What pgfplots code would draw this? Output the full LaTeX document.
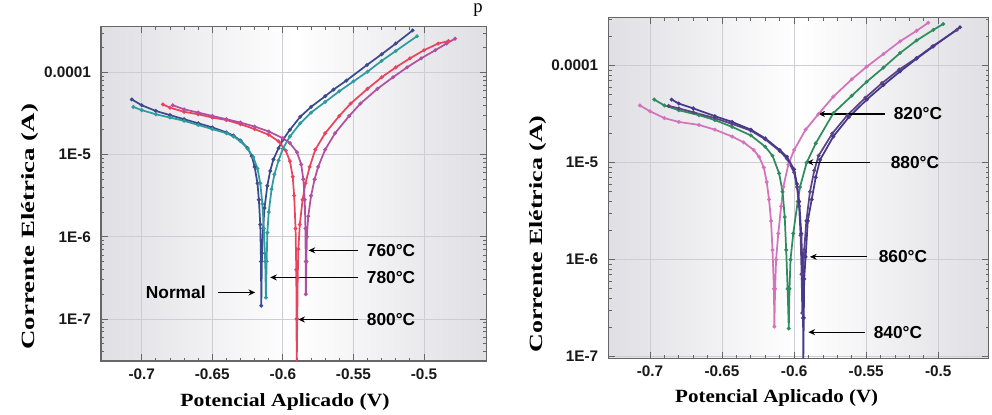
\documentclass[border=0pt]{standalone}
\usepackage{fontspec}
\setmainfont{Liberation Serif}
\setsansfont{Liberation Sans}
\usepackage{pgfplots}
\pgfplotsset{compat=1.18}
\usetikzlibrary{arrows.meta}

\definecolor{cNormal}{HTML}{3B4A8E}
\definecolor{cT780}{HTML}{2E9C9E}
\definecolor{cT800}{HTML}{E8445F}
\definecolor{cT760}{HTML}{B24FA0}
\definecolor{cT820}{HTML}{D472BC}
\definecolor{cT880}{HTML}{2F8C5E}
\definecolor{cT840}{HTML}{46398C}
\definecolor{cT860}{HTML}{5C4484}
\definecolor{gridc}{HTML}{CDCDD3}
\definecolor{bgedge}{HTML}{DFDFE4}

\tikzset{
 lab/.style={font=\sffamily\bfseries\fontsize{13}{14}\selectfont},
 arr/.style={-{Stealth[length=5pt,width=4.5pt]}, line width=0.9pt, black},
}
\pgfplotsset{
 mypanel/.style={
  scale only axis, anchor=south west,
  axis line style={draw=black!60, line width=0.8pt},
  tick style={black!60, line width=0.6pt},
  major tick length=5pt, minor tick length=2.5pt,
  tick align=inside, xtick pos=both, ytick pos=both,
  xtick={-0.7,-0.65,-0.6,-0.55,-0.5},
  xticklabels={-0.7,-0.65,-0.6,-0.55,-0.5},
  minor x tick num=4,
  ytick={1e-7,1e-6,1e-5,1e-4},
  yticklabels={1E-7,1E-6,1E-5,0.0001},
  minor ytick={3e-8,4e-8,5e-8,6e-8,7e-8,8e-8,9e-8,2e-7,3e-7,4e-7,5e-7,6e-7,7e-7,8e-7,9e-7,2e-6,3e-6,4e-6,5e-6,6e-6,7e-6,8e-6,9e-6,2e-5,3e-5,4e-5,5e-5,6e-5,7e-5,8e-5,9e-5,2e-4,3e-4},
  xmajorgrids, ymajorgrids, major grid style={gridc, line width=0.6pt},
  tick label style={font=\sffamily\bfseries\fontsize{11.5}{12}\selectfont, text=black!90},
  yticklabel style={xshift=-4pt},
  xticklabel style={yshift=-2pt},
  axis background/.style={shade, left color=bgedge, right color=bgedge, middle color=white},
  every axis plot/.append style={line width=1.3pt, mark=*, mark size=0.7pt, mark options={solid}},
 },
}

\begin{document}
\begin{tikzpicture}
\useasboundingbox (0,0) rectangle (744pt,310.5pt);

\begin{axis}[mypanel, ymode=log, at={(75.75pt,39.75pt)}, width=289.3pt, height=250.7pt,
  xmin=-0.72887, xmax=-0.45553, ymin=3.08e-8, ymax=3.59e-4]
% Normal
\addplot[cNormal] coordinates {
(-0.707,4.68e-5) (-0.700,3.98e-5) (-0.690,3.39e-5) (-0.680,3.02e-5) (-0.670,2.69e-5)
(-0.660,2.40e-5) (-0.650,2.14e-5) (-0.640,1.86e-5) (-0.635,1.70e-5) (-0.630,1.48e-5)
(-0.625,1.20e-5) (-0.622,9.55e-6) (-0.620,7.08e-6) (-0.618,4.47e-6) (-0.617,2.82e-6)
(-0.616,1.41e-6) (-0.6155,5.01e-7) (-0.6153,1.45e-7) (-0.6148,6.31e-7) (-0.614,1.26e-6)
(-0.613,2.24e-6) (-0.611,4.17e-6) (-0.609,6.31e-6) (-0.6067,8.71e-6) (-0.603,1.20e-5)
(-0.600,1.51e-5) (-0.595,2.00e-5) (-0.5877,2.88e-5) (-0.580,3.80e-5) (-0.570,5.13e-5)
(-0.5641,6.17e-5) (-0.555,7.94e-5) (-0.5404,1.23e-4) (-0.530,1.66e-4) (-0.520,2.24e-4)
(-0.508,3.24e-4)};
% 780
\addplot[cT780] coordinates {
(-0.706,3.80e-5) (-0.700,3.47e-5) (-0.690,3.09e-5) (-0.680,2.82e-5) (-0.670,2.57e-5)
(-0.660,2.29e-5) (-0.650,2.04e-5) (-0.640,1.82e-5) (-0.635,1.66e-5) (-0.630,1.45e-5)
(-0.625,1.18e-5) (-0.621,9.33e-6) (-0.618,6.76e-6) (-0.616,4.47e-6) (-0.6145,2.51e-6)
(-0.6135,1.26e-6) (-0.6125,5.01e-7) (-0.612,1.82e-7) (-0.6115,5.01e-7) (-0.611,1.12e-6)
(-0.610,2.00e-6) (-0.608,3.80e-6) (-0.606,5.75e-6) (-0.603,8.51e-6) (-0.600,1.18e-5)
(-0.595,1.66e-5) (-0.5877,2.40e-5) (-0.580,3.24e-5) (-0.570,4.37e-5) (-0.560,5.89e-5)
(-0.550,7.76e-5) (-0.540,1.02e-4) (-0.530,1.38e-4) (-0.520,1.82e-4) (-0.505,2.75e-4)};
% 800
\addplot[cT800] coordinates {
(-0.685,4.07e-5) (-0.680,3.72e-5) (-0.670,3.31e-5) (-0.660,3.09e-5) (-0.650,2.82e-5)
(-0.640,2.63e-5) (-0.630,2.34e-5) (-0.620,2.04e-5) (-0.610,1.74e-5) (-0.603,1.45e-5)
(-0.598,1.12e-5) (-0.595,8.32e-6) (-0.593,5.37e-6) (-0.592,3.16e-6) (-0.591,1.26e-6)
(-0.5905,3.98e-7) (-0.5903,1.00e-7) (-0.5902,2.51e-8) (-0.5898,1.00e-7) (-0.5895,3.16e-7)
(-0.589,7.08e-7) (-0.588,1.41e-6) (-0.586,2.82e-6) (-0.584,4.47e-6) (-0.581,7.08e-6)
(-0.577,1.15e-5) (-0.570,1.82e-5) (-0.560,2.95e-5) (-0.552,4.17e-5) (-0.540,6.31e-5)
(-0.530,8.71e-5) (-0.520,1.15e-4) (-0.510,1.48e-4) (-0.500,1.86e-4) (-0.490,2.24e-4)
(-0.4826,2.40e-4)};
% 760
\addplot[cT760] coordinates {
(-0.678,3.98e-5) (-0.670,3.55e-5) (-0.660,3.24e-5) (-0.650,2.95e-5) (-0.640,2.69e-5)
(-0.630,2.45e-5) (-0.620,2.19e-5) (-0.610,1.91e-5) (-0.600,1.58e-5) (-0.595,1.38e-5)
(-0.590,1.07e-5) (-0.587,7.59e-6) (-0.5855,5.01e-6) (-0.5845,2.82e-6) (-0.584,1.26e-6)
(-0.5838,5.01e-7) (-0.5837,2.00e-7) (-0.5833,5.01e-7) (-0.583,1.00e-6) (-0.582,1.78e-6)
(-0.580,3.16e-6) (-0.5775,5.01e-6) (-0.575,7.08e-6) (-0.570,1.15e-5) (-0.563,1.82e-5)
(-0.553,2.95e-5) (-0.545,4.17e-5) (-0.533,6.31e-5) (-0.522,8.71e-5) (-0.512,1.15e-4)
(-0.502,1.48e-4) (-0.492,1.86e-4) (-0.484,2.24e-4) (-0.478,2.57e-4)};

\draw[arr] (axis cs:-0.5466,6.84e-7) -- (axis cs:-0.5818,6.84e-7);
\node[lab, anchor=west] at (axis cs:-0.5438,6.84e-7) {760°C};
\draw[arr] (axis cs:-0.5466,3.2e-7) -- (axis cs:-0.609,3.2e-7);
\node[lab, anchor=west] at (axis cs:-0.5438,3.2e-7) {780°C};
\draw[arr] (axis cs:-0.6459,2.1e-7) -- (axis cs:-0.6196,2.1e-7);
\node[lab, anchor=east] at (axis cs:-0.6514,2.1e-7) {Normal};
\draw[arr] (axis cs:-0.5466,9.84e-8) -- (axis cs:-0.5891,9.84e-8);
\node[lab, anchor=west] at (axis cs:-0.5438,9.84e-8) {800°C};
\end{axis}

\begin{axis}[mypanel, ymode=log, at={(456.2pt,41.8pt)}, width=285.5pt, height=255.75pt,
  xmin=-0.72894, xmax=-0.46482, ymin=9.63e-8, ymax=3.155e-4]
% 820
\addplot[cT820] coordinates {
(-0.707,3.89e-5) (-0.700,3.39e-5) (-0.690,2.88e-5) (-0.680,2.63e-5) (-0.666,2.45e-5)
(-0.655,2.19e-5) (-0.643,1.86e-5) (-0.635,1.62e-5) (-0.628,1.35e-5) (-0.6243,1.15e-5)
(-0.621,8.91e-6) (-0.619,6.31e-6) (-0.6174,4.17e-6) (-0.616,2.51e-6) (-0.615,1.26e-6)
(-0.614,5.01e-7) (-0.6137,2.04e-7) (-0.6132,5.01e-7) (-0.6125,1.00e-6) (-0.611,1.86e-6)
(-0.609,3.55e-6) (-0.6075,5.62e-6) (-0.604,9.55e-6) (-0.600,1.35e-5) (-0.592,2.19e-5)
(-0.5832,3.16e-5) (-0.5728,4.79e-5) (-0.560,7.24e-5) (-0.5496,9.77e-5) (-0.538,1.32e-4)
(-0.5265,1.78e-4) (-0.515,2.29e-4) (-0.5069,2.77e-4)};
% 880
\addplot[cT880] coordinates {
(-0.697,4.47e-5) (-0.690,3.89e-5) (-0.680,3.47e-5) (-0.666,3.09e-5) (-0.655,2.75e-5)
(-0.643,2.34e-5) (-0.630,1.91e-5) (-0.620,1.46e-5) (-0.615,1.18e-5) (-0.6104,7.76e-6)
(-0.608,5.01e-6) (-0.6065,2.75e-6) (-0.6055,1.26e-6) (-0.6045,5.01e-7) (-0.6037,1.95e-7)
(-0.6032,5.01e-7) (-0.6025,1.00e-6) (-0.6006,1.86e-6) (-0.5975,3.98e-6) (-0.5959,5.62e-6)
(-0.5913,1.00e-5) (-0.585,1.58e-5) (-0.5728,3.24e-5) (-0.560,4.90e-5) (-0.5496,6.84e-5)
(-0.538,9.55e-5) (-0.5265,1.35e-4) (-0.515,1.82e-4) (-0.5034,2.34e-4) (-0.4965,2.69e-4)};
% 860
\addplot[cT860] coordinates {
(-0.687,3.85e-5) (-0.680,3.63e-5) (-0.670,3.31e-5) (-0.655,2.88e-5) (-0.643,2.51e-5)
(-0.630,2.14e-5) (-0.620,1.74e-5) (-0.610,1.32e-5) (-0.605,1.10e-5) (-0.600,7.94e-6)
(-0.598,5.62e-6) (-0.5965,3.55e-6) (-0.5955,1.78e-6) (-0.5948,7.08e-7) (-0.5943,2.82e-7)
(-0.5938,6.31e-7) (-0.593,1.26e-6) (-0.5915,2.51e-6) (-0.589,5.01e-6) (-0.586,8.32e-6)
(-0.583,1.18e-5) (-0.5735,2.00e-5) (-0.563,3.09e-5) (-0.5505,4.68e-5) (-0.539,6.61e-5)
(-0.527,9.12e-5) (-0.515,1.20e-4) (-0.504,1.58e-4) (-0.487,2.34e-4)};
% 840
\addplot[cT840] coordinates {
(-0.685,4.47e-5) (-0.680,4.07e-5) (-0.670,3.63e-5) (-0.655,3.02e-5) (-0.643,2.63e-5)
(-0.630,2.19e-5) (-0.620,1.78e-5) (-0.610,1.35e-5) (-0.605,1.15e-5) (-0.600,8.51e-6)
(-0.598,6.03e-6) (-0.5965,3.98e-6) (-0.595,1.86e-6) (-0.594,6.31e-7) (-0.5938,2.51e-7)
(-0.5936,9.55e-8) (-0.5933,2.51e-7) (-0.593,6.31e-7) (-0.592,1.07e-6) (-0.5905,2.51e-6)
(-0.5878,4.17e-6) (-0.585,7.08e-6) (-0.582,1.07e-5) (-0.5728,1.86e-5) (-0.562,2.95e-5)
(-0.5496,4.47e-5) (-0.538,6.31e-5) (-0.5265,8.71e-5) (-0.515,1.18e-4) (-0.5034,1.58e-4)
(-0.4849,2.49e-4)};

\draw[arr] (axis cs:-0.5369,3.18e-5) -- (axis cs:-0.5832,3.18e-5);
\node[lab, anchor=west] at (axis cs:-0.5341,3.18e-5) {820°C};
\draw[arr] (axis cs:-0.5472,1.01e-5) -- (axis cs:-0.5913,1.01e-5);
\node[lab, anchor=west] at (axis cs:-0.5362,1.01e-5) {880°C};
\draw[arr] (axis cs:-0.5496,1.07e-6) -- (axis cs:-0.589,1.07e-6);
\node[lab, anchor=west] at (axis cs:-0.5445,1.07e-6) {860°C};
\draw[arr] (axis cs:-0.5508,1.79e-7) -- (axis cs:-0.5901,1.79e-7);
\node[lab, anchor=west] at (axis cs:-0.548,1.79e-7) {840°C};
\end{axis}

\node[font=\bfseries\fontsize{14}{16}\selectfont] at (213.75pt,9.2pt) {\scalebox{1.16}[1]{Potencial Aplicado (V)}};
\node[font=\bfseries\fontsize{14}{16}\selectfont, rotate=90] at (22.5pt,140.5pt) {\scalebox{1.44}[1]{Corrente Elétrica (A)}};
\node[font=\bfseries\fontsize{14}{16}\selectfont] at (582.5pt,11.8pt) {\scalebox{1.125}[1]{Potencial Aplicado (V)}};
\node[font=\bfseries\fontsize{14}{16}\selectfont, rotate=90] at (403.5pt,135pt) {\scalebox{1.39}[1]{Corrente Elétrica (A)}};
\node[anchor=base, inner sep=0pt, font=\fontsize{14}{14}\selectfont] at (358.5pt,301pt) {p};
\end{tikzpicture}
\end{document}
